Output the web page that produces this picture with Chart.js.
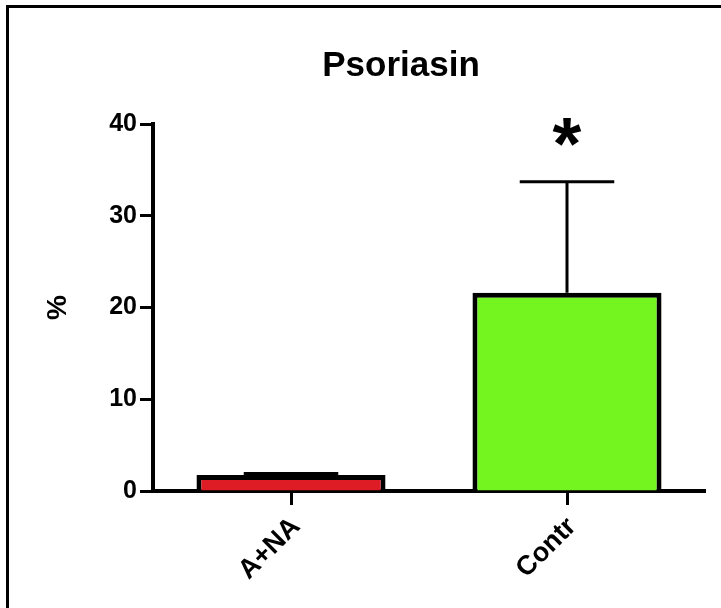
<!DOCTYPE html>
<html>
<head>
<meta charset="utf-8">
<script src="https://cdn.jsdelivr.net/npm/chart.js@4/dist/chart.umd.min.js"></script>
<style>
  html, body { margin: 0; padding: 0; background: #fff; }
  #wrap { position: relative; width: 721px; height: 608px; overflow: hidden; }
  #frame { position: absolute; left: 6px; top: 5px; right: 0; bottom: 0;
           border-top: 3px solid #000; border-left: 3px solid #000; }
  canvas { position: absolute; left: 0; top: 0; }
</style>
</head>
<body>
<div id="wrap">
  <div id="frame"></div>
  <canvas id="chart" width="721" height="608"></canvas>
</div>
<script>
// Groups, means and SEM for psoriasin expression
const categories = ['A+NA', 'Contr'];
const meanValues = [1.75, 21.6];
const semValues = [0.15, 12.1];
const significance = ['', '*'];
const barColors = ['#DD1C25', '#74F520'];
const yMin = 0;
const yMax = 40;
const yStep = 10;
const chartTitle = 'Psoriasin';
const yAxisTitle = '%';

const FONT = "'Liberation Sans', Arial, Helvetica, sans-serif";

// Error bars (mean + SEM, upper side only) and significance markers
const errorBars = {
  id: 'errorBars',
  beforeDatasetsDraw(chart) {
    const { ctx, scales: { x, y } } = chart;
    const meta = chart.getDatasetMeta(0);
    ctx.save();
    ctx.strokeStyle = '#000';
    ctx.lineWidth = 3;
    meta.data.forEach((bar, i) => {
      const cx = x.getPixelForValue(i);
      const y0 = y.getPixelForValue(meanValues[i]);
      const y1 = y.getPixelForValue(meanValues[i] + semValues[i]);
      const half = bar.width / 4;
      ctx.beginPath();
      ctx.moveTo(cx, y0);
      ctx.lineTo(cx, y1);
      ctx.moveTo(cx - half, y1);
      ctx.lineTo(cx + half, y1);
      ctx.stroke();
    });
    ctx.restore();
  },
  afterDraw(chart) {
    const { ctx, scales: { x, y } } = chart;
    ctx.save();
    ctx.fillStyle = '#000';
    // significance asterisks above the error bars
    ctx.font = 'bold 74px ' + FONT;
    ctx.textAlign = 'center';
    ctx.textBaseline = 'alphabetic';
    significance.forEach((mark, i) => {
      if (!mark) return;
      const cx = x.getPixelForValue(i);
      const yTop = y.getPixelForValue(meanValues[i] + semValues[i]);
      const m = ctx.measureText(mark);
      const center = yTop - 50;
      const baseline = center + (m.actualBoundingBoxAscent - m.actualBoundingBoxDescent) / 2;
      ctx.fillText(mark, cx, baseline);
    });
    // chart title
    ctx.font = 'bold 35px ' + FONT;
    ctx.textBaseline = 'alphabetic';
    ctx.fillText(chartTitle, 401, 76);
    ctx.restore();
  }
};

new Chart(document.getElementById('chart'), {
  type: 'bar',
  data: {
    labels: categories,
    datasets: [{
      data: meanValues,
      backgroundColor: barColors,
      borderColor: '#000',
      borderWidth: 5,
      borderSkipped: 'start',
      barPercentage: 0.685,
      categoryPercentage: 1.0
    }]
  },
  options: {
    responsive: false,
    animation: false,
    devicePixelRatio: 1,
    layout: { padding: { top: 124, right: 16, left: 0, bottom: 0 } },
    plugins: {
      legend: { display: false },
      tooltip: { enabled: false },
      title: { display: false }
    },
    scales: {
      x: {
        offset: true,
        grid: {
          drawOnChartArea: false,
          drawTicks: true,
          tickLength: 14,
          tickWidth: 3,
          color: '#000',
          offset: false
        },
        border: { display: true, color: '#000', width: 4 },
        ticks: {
          color: '#000',
          font: { family: FONT, size: 27, weight: 'bold' },
          minRotation: 45,
          maxRotation: 45,
          padding: 6,
          labelOffset: 5
        },
        afterFit(scale) { scale.height = 117; }
      },
      y: {
        min: yMin,
        max: yMax,
        ticks: {
          stepSize: yStep,
          color: '#000',
          font: { family: FONT, size: 25, weight: 'bold' },
          padding: 3
        },
        grid: {
          drawOnChartArea: false,
          drawTicks: true,
          tickLength: 13,
          tickWidth: 3,
          color: '#000'
        },
        border: { display: true, color: '#000', width: 4 },
        title: {
          display: true,
          text: yAxisTitle,
          color: '#000',
          font: { family: FONT, size: 28, weight: 'bold' },
          padding: { top: 41, bottom: 0 }
        },
        afterFit(scale) { scale.width = 153; }
      }
    }
  },
  plugins: [errorBars]
});
</script>
</body>
</html>
